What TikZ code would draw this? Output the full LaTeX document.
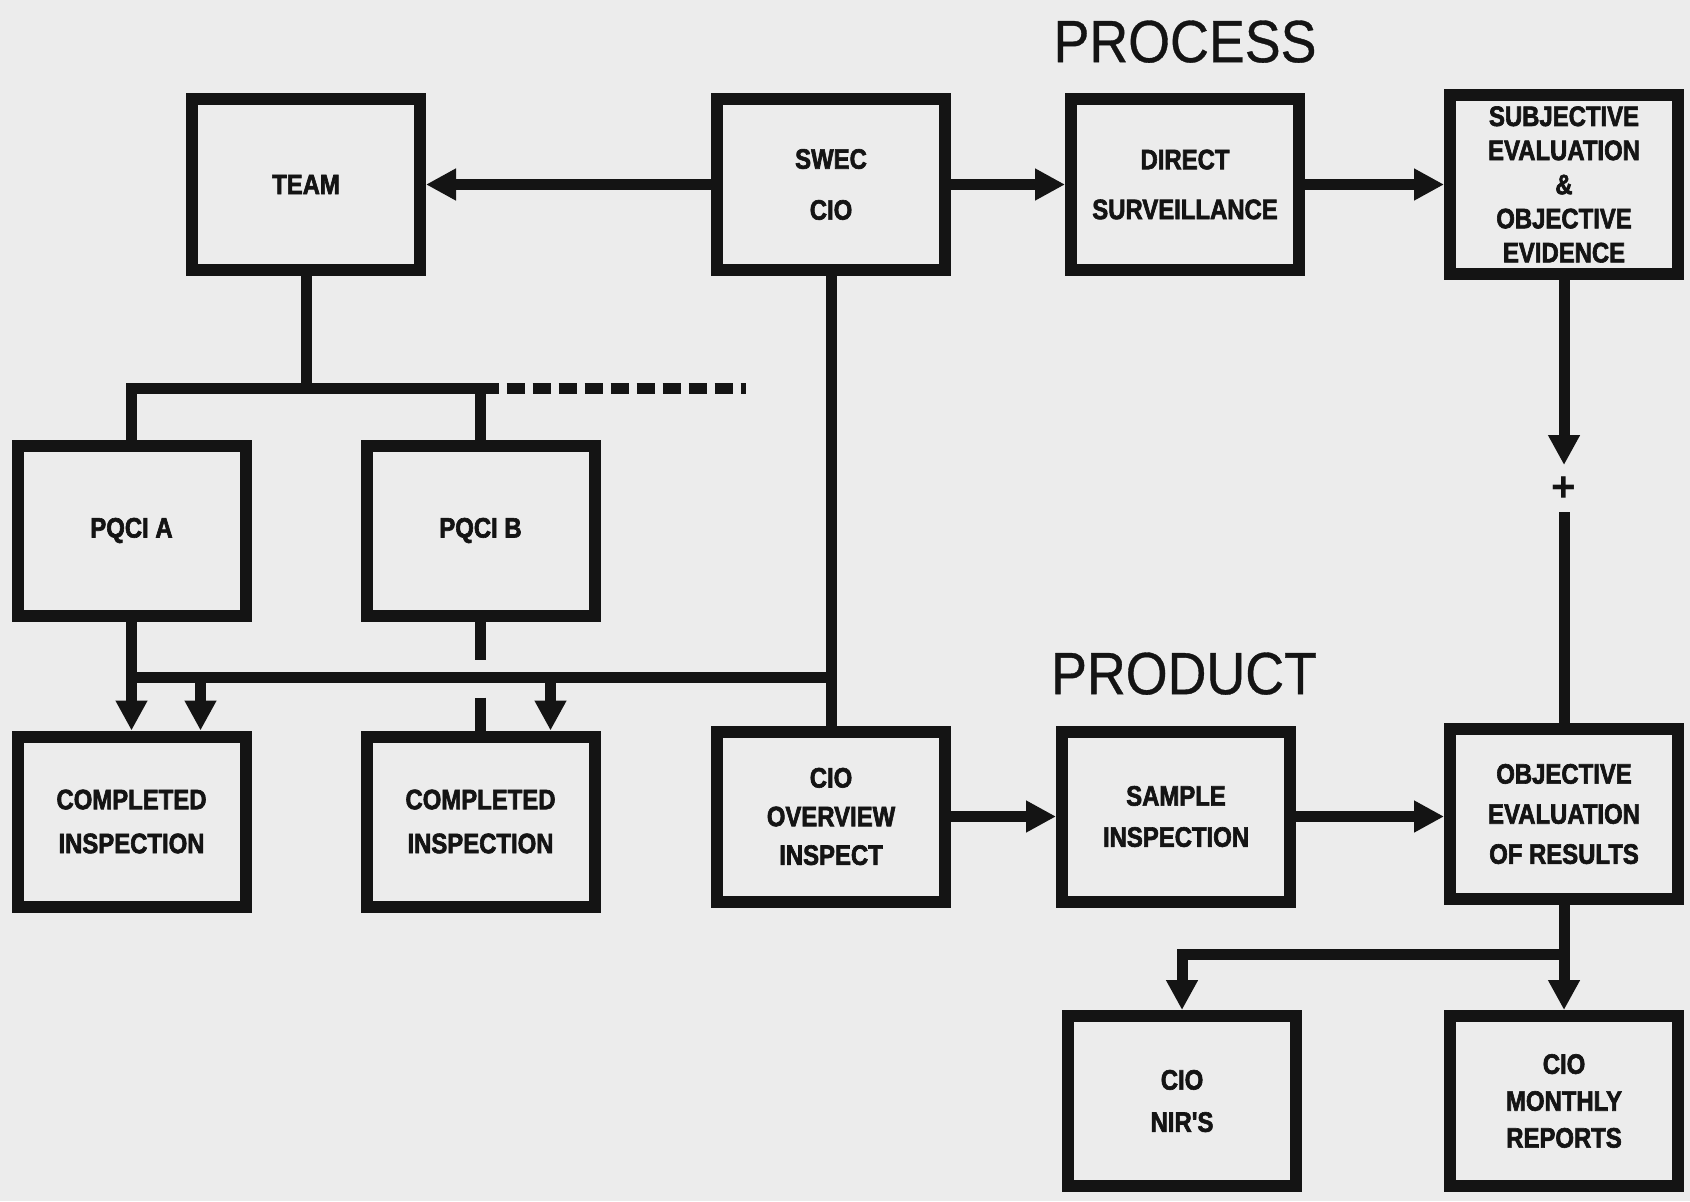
\documentclass[tikz,border=0pt]{standalone}
\usepackage{fontspec}
\setmainfont{Liberation Sans}
\newfontfamily\boxfont[FakeStretch=0.85,BoldFeatures={FakeBold=2.2}]{Liberation Sans}
\newfontfamily\headfont[FakeStretch=0.9,FakeBold=0.6]{Liberation Sans}
\usetikzlibrary{positioning, arrows.meta, calc}
\definecolor{cPaper}{HTML}{ECECEC}
\definecolor{cInk}{HTML}{141414}

\begin{document}
\begin{tikzpicture}[
  box/.style={draw=cInk,line width=0.12cm,align=center,minimum width=2.28cm,minimum height=1.70cm,inner sep=2pt,text=cInk,font=\boxfont\bfseries\fontsize{8}{11}\selectfont},
  conn/.style={draw=cInk,line width=0.11cm},
  arr/.style={conn,-{Triangle[length=3mm,width=3mm]}},
  head/.style={font=\headfont\fontsize{17}{17}\selectfont,text=cInk,inner sep=0pt}]
  \fill[cPaper] (0,0) rectangle (16.90,-12.01);
  \useasboundingbox (0,0) rectangle (16.90,-12.01);
  \node[box] (team) at (3.06,-1.845) {TEAM};
  \node[box, right=2.85cm of team] (swec) {SWEC\\[3.5pt]CIO};
  \node[box, right=1.14cm of swec] (direct) {DIRECT\\[3.2pt]SURVEILLANCE};
  \node[box, right=1.39cm of direct, minimum height=1.79cm, font=\boxfont\bfseries\fontsize{8}{9.7}\selectfont] (subj) {SUBJECTIVE\\EVALUATION\\\&\\OBJECTIVE\\EVIDENCE};
  \node[box] (pqcia) at (1.315,-5.305) {PQCI A};
  \node[box, right=1.09cm of pqcia] (pqcib) {PQCI B};
  \node[box, below=1.09cm of pqcia] (comp1) {COMPLETED\\[1.5pt]INSPECTION};
  \node[box, below=1.09cm of pqcib] (comp2) {COMPLETED\\[1.5pt]INSPECTION};
  \node[box, below=4.50cm of swec] (cioov) {CIO\\OVERVIEW\\INSPECT};
  \node[box, right=1.05cm of cioov] (sample) {SAMPLE\\[0.7pt]INSPECTION};
  \node[font=\bfseries\fontsize{12}{12}\selectfont, text=cInk, inner sep=0pt, minimum height=0.46cm, below=1.85cm of subj] (plus) {+};
  \node[box, below=4.43cm of subj] (obj) {OBJECTIVE\\[0.4pt]EVALUATION\\[0.4pt]OF RESULTS};
  \node[box, below=1.05cm of obj] (monthly) {CIO\\[-0.5pt]MONTHLY\\[-0.5pt]REPORTS};
  \node[box, left=1.42cm of monthly] (nir) {CIO\\[1pt]NIR'S};
  \node[head, above=0.30cm of direct] (process) {PROCESS};
  \node[head, above=0.30cm of sample, xshift=0.08cm] (product) {PRODUCT};
  \coordinate (tb) at ($(team.south)+(0,-1.13)$);
  \coordinate (tbend) at ($(pqcib.north |- tb)+(2.65,0)$);
  \coordinate (lb) at ($(pqcia.south)+(0,-0.56)$);
  \coordinate (a2) at ($(lb)+(0.69,0)$);
  \coordinate (a3) at ($(lb)+(4.19,0)$);
  \coordinate (ob) at ($(obj.south)+(0,-0.49)$);
  \draw[arr] (swec.west) -- (team.east); \draw[arr] (swec.east) -- (direct.west); \draw[arr] (direct.east) -- (subj.west);
  \draw[conn] (team.south) -- (team.south |- tb);
  \draw[conn] (pqcia.north) |- (pqcib.north |- tb) -- (pqcib.north);
  \draw[conn, dash pattern=on 0.18cm off 0.08cm] (pqcib.north |- tb) -- (tbend);
  \draw[conn] (swec.south) -- (cioov.north);
  \draw[conn] (lb) -- (lb -| swec.south);
  \draw[arr] (pqcia.south) -- (comp1.north); \draw[arr] (a2) -- (a2 |- comp1.north); \draw[arr] (a3) -- (a3 |- comp2.north);
  \draw[conn] (pqcib.south) -- ($(pqcib.south)+(0,-0.38)$); \draw[conn] ($(comp2.north)+(0,0.33)$) -- (comp2.north);
  \draw[arr] (subj.south) -- (plus.north); \draw[conn] (plus.south) -- (obj.north);
  \draw[arr] (cioov.east) -- (sample.west); \draw[arr] (sample.east) -- (sample.east -| obj.west);
  \draw[arr] (obj.south) -- (monthly.north); \draw[arr] (ob) -| (nir.north);
\end{tikzpicture}
\end{document}
